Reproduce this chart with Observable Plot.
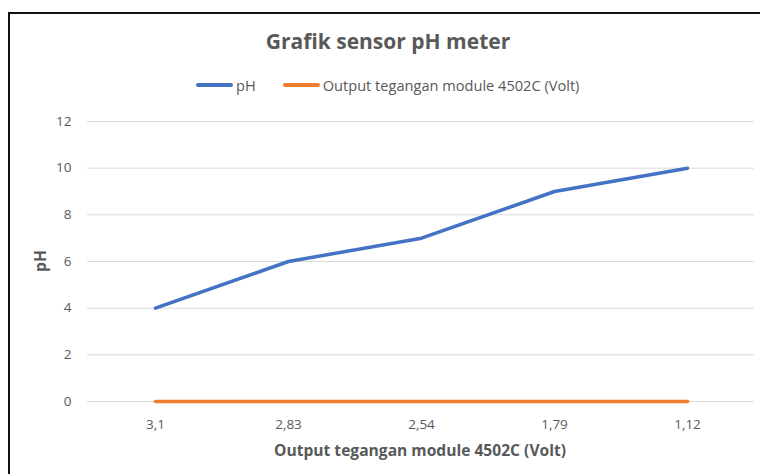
<!DOCTYPE html>
<html><head><meta charset="utf-8">
<script src="https://cdn.jsdelivr.net/npm/d3@7"></script>
<script src="https://cdn.jsdelivr.net/npm/@observablehq/plot@0.6"></script>
<style>
body{margin:0;background:#fff;font-family:"Open Sans",sans-serif;}
#wrap{position:relative;width:760px;height:474px;overflow:hidden;background:#fff;}
#border{position:absolute;left:8px;top:12px;width:800px;height:500px;border:2px solid #111;box-sizing:border-box;}
#title{position:absolute;left:0;width:776px;top:27px;text-align:center;font-size:21px;font-weight:700;color:#595959;}
#legend{position:absolute;top:75px;left:196px;font-size:14.6px;color:#595959;display:flex;align-items:center;white-space:nowrap;}
.sw{display:inline-block;width:37px;height:4px;border-radius:2px;margin-right:3px;}
#xlabel{position:absolute;top:439px;left:0;width:840px;text-align:center;font-size:15.6px;font-weight:700;color:#595959;}
#ylabel{position:absolute;left:40px;top:261px;transform:translate(-50%,-50%) rotate(-90deg);font-size:15.6px;font-weight:700;color:#595959;}
#chart{position:absolute;left:0;top:100px;}
</style></head>
<body>
<div id="wrap">
  <div id="border"></div>
  <div id="title">Grafik sensor pH meter</div>
  <div id="legend"></div>
  <div id="chart"></div>
  <div id="ylabel">pH</div>
  <div id="xlabel">Output tegangan module 4502C (Volt)</div>
</div>
<script>
const categories = ["3,1","2,83","2,54","1,79","1,12"];
const phValues = [4, 6, 7, 9, 10];
const outputValues = [0, 0, 0, 0, 0];
const seriesNames = ["pH", "Output tegangan module 4502C (Volt)"];
const seriesColors = ["#4472C4", "#ED7D31"];
const yTicks = [0, 2, 4, 6, 8, 10, 12];

const phData = categories.map((c, i) => ({cat: c, v: phValues[i]}));
const outData = categories.map((c, i) => ({cat: c, v: outputValues[i]}));

const legend = document.getElementById("legend");
seriesNames.forEach((n, i) => {
  const item = document.createElement("span");
  item.style.display = "inline-flex";
  item.style.alignItems = "center";
  item.style.marginRight = i === 0 ? "27px" : "0";
  item.innerHTML = `<span class="sw" style="background:${seriesColors[i]}"></span>${n}`;
  legend.appendChild(item);
});

const chart = Plot.plot({
  width: 760,
  height: 370,
  marginLeft: 87,
  marginRight: 6,
  marginTop: 21,
  marginBottom: 69,
  style: {fontFamily: "'Open Sans', sans-serif", fontSize: "13.5px", color: "#595959", background: "transparent"},
  x: {type: "point", domain: categories, padding: 0.5, label: null},
  y: {domain: [0, 12], label: null},
  marks: [
    Plot.gridY(yTicks, {stroke: "#d9d9d9", strokeOpacity: 1, strokeWidth: 1}),
    Plot.axisY(yTicks, {tickSize: 0, tickPadding: 16, label: null, fill: "#595959"}),
    Plot.axisX({tickSize: 0, tickPadding: 18, label: null, fill: "#595959"}),
    Plot.line(phData, {x: "cat", y: "v", stroke: seriesColors[0], strokeWidth: 3.5, strokeLinecap: "round", strokeLinejoin: "round"}),
    Plot.line(outData, {x: "cat", y: "v", stroke: seriesColors[1], strokeWidth: 3.5, strokeLinecap: "round", strokeLinejoin: "round"})
  ]
});
document.getElementById("chart").appendChild(chart);
</script>
</body></html>
